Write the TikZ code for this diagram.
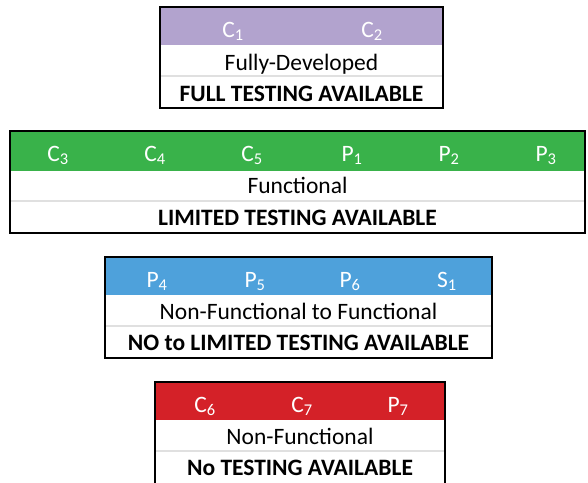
\documentclass[tikz,border=0pt]{standalone}
\usepackage{fontspec}
\setmainfont{Carlito}
\usepackage{xcolor}
\usetikzlibrary{positioning}
\definecolor{fullpurple}{RGB}{178,163,206}
\definecolor{limgreen}{RGB}{57,178,74}
\definecolor{partblue}{RGB}{78,161,219}
\definecolor{nored}{RGB}{212,33,40}
\definecolor{rowline}{RGB}{224,224,224}

\begin{document}
\begin{tikzpicture}[
  x=1pt, y=-1pt,
  every node/.style={font=\fontsize{23.5}{28}\selectfont, inner sep=0pt, anchor=base},
  head/.style={text=white},
  verdict/.style={font=\fontsize{23.5}{28}\selectfont\bfseries},
  frame/.style={draw=black, line width=2.4pt},
  sep/.style={draw=rowline, line width=1.2pt}
]
  \clip (0,0) rectangle (588,482);
  \useasboundingbox (0,0) rectangle (588,482);

  % Fully-developed
  \fill[fullpurple] (160,7) rectangle (443,45);
  \draw[sep] (160,76) -- (443,76);
  \draw[frame] (160,7) rectangle (443,108);
  \node[head] (c1) at (233,37) {C\textsubscript{1}};
  \node[head] (c2) at (372,37) {C\textsubscript{2}};
  \node (fullstate) at (301.5,70) {Fully-Developed};
  \node[verdict] (fulltest) at (301.5,101) {FULL TESTING AVAILABLE};

  % Functional
  \fill[limgreen] (10,131) rectangle (585,171);
  \draw[sep] (10,201) -- (585,201);
  \draw[frame] (10,131) rectangle (585,233);
  \node[head] (c3) at (58,161) {C\textsubscript{3}};
  \node[head] (c4) at (155,161) {C\textsubscript{4}};
  \node[head] (c5) at (252,161) {C\textsubscript{5}};
  \node[head] (p1) at (352,161) {P\textsubscript{1}};
  \node[head] (p2) at (449,161) {P\textsubscript{2}};
  \node[head] (p3) at (546,161) {P\textsubscript{3}};
  \node (limstate) at (297.5,193) {Functional};
  \node[verdict] (limtest) at (297.5,225) {LIMITED TESTING AVAILABLE};

  % Non-functional to functional
  \fill[partblue] (105,257) rectangle (492,295);
  \draw[sep] (105,326) -- (492,326);
  \draw[frame] (105,257) rectangle (492,358);
  \node[head] (p4) at (157,287) {P\textsubscript{4}};
  \node[head] (p5) at (255,287) {P\textsubscript{5}};
  \node[head] (p6) at (350,287) {P\textsubscript{6}};
  \node[head] (s1) at (447,287) {S\textsubscript{1}};
  \node (partstate) at (298.5,319) {Non-Functional to Functional};
  \node[verdict] (parttest) at (298.5,350) {NO to LIMITED TESTING AVAILABLE};

  % Non-functional
  \fill[nored] (155,382) rectangle (445,420);
  \draw[sep] (155,451) -- (445,451);
  \draw[frame] (155,382) rectangle (445,484);
  \node[head] (c6) at (205,412) {C\textsubscript{6}};
  \node[head] (c7) at (302,412) {C\textsubscript{7}};
  \node[head] (p7) at (398,412) {P\textsubscript{7}};
  \node (nostate) at (300,444) {Non-Functional};
  \node[verdict] (notest) at (300,475) {No TESTING AVAILABLE};
\end{tikzpicture}
\end{document}
